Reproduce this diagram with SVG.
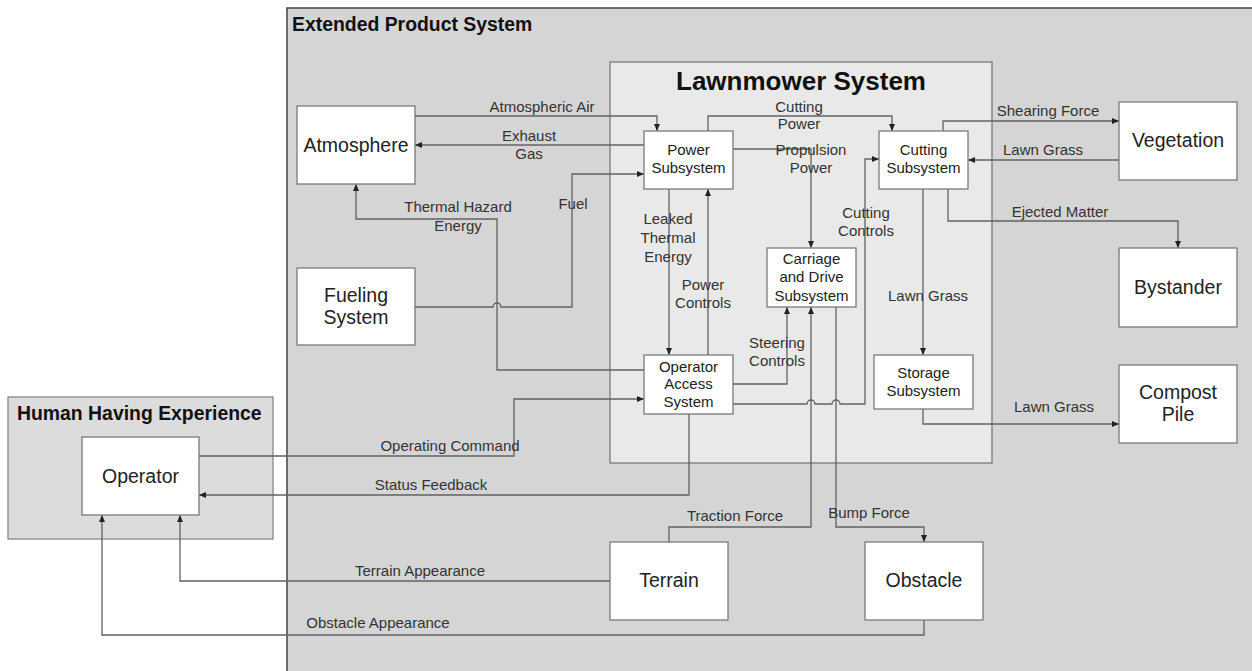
<svg xmlns="http://www.w3.org/2000/svg" width="1252" height="671" viewBox="0 0 1252 671">
<style>
text{font-family:"Liberation Sans",Arial,sans-serif;fill:#222}
.t{font-size:19.4px;font-weight:bold;fill:#111}
.big{font-size:19.5px;text-anchor:middle}
.sm{font-size:15px;text-anchor:middle}
.lb{font-size:15px;text-anchor:middle;fill:#333}
.node{fill:#fff;stroke:#7a7a7a;stroke-width:1.3}
.cn path{fill:none;stroke:#626262;stroke-width:1.3}
</style>
<defs>
<marker id="ah" markerWidth="8" markerHeight="8" refX="7" refY="4" orient="auto" markerUnits="userSpaceOnUse">
<path d="M0,1 L7,4 L0,7 z" fill="#222"/>
</marker>
</defs>
<rect width="1252" height="671" fill="#fff"/>
<g id="extended">
<rect x="287" y="8" width="980" height="680" fill="#d5d5d5" stroke="#444" stroke-width="1.5"/>
<text class="t" x="292" y="31">Extended Product System</text>
</g>
<g id="lawnmower">
<rect x="610" y="62" width="382" height="401" fill="#e9e9e9" stroke="#7a7a7a" stroke-width="1.3"/>
<text x="801" y="90" style="font-size:26px;font-weight:bold;text-anchor:middle;fill:#111">Lawnmower System</text>
</g>
<g id="human">
<rect x="8" y="397" width="265" height="142" fill="#dcdcdc" stroke="#888" stroke-width="1.3"/>
<text class="t" x="17" y="420">Human Having Experience</text>
</g>
<g class="cn" id="connectors">
<path d="M415,116 H657 V131" marker-end="url(#ah)"/>
<path d="M644,145 H415" marker-end="url(#ah)"/>
<path d="M415,307 H493 a4,4 0 0 1 8,0 H572 V174 H644" marker-end="url(#ah)"/>
<path d="M644,370 H497 V219 H356 V184" marker-end="url(#ah)"/>
<path d="M708,131 V116 H892 V131" marker-end="url(#ah)"/>
<path d="M733,149 H811 V248" marker-end="url(#ah)"/>
<path d="M669,189 V355" marker-end="url(#ah)"/>
<path d="M708,355 V189" marker-end="url(#ah)"/>
<path d="M733,404 H807 a4,4 0 0 1 8,0 H832 a4,4 0 0 1 8,0 H865 V159 H879" marker-end="url(#ah)"/>
<path d="M733,384 H787 V307" marker-end="url(#ah)"/>
<path d="M923,189 V355" marker-end="url(#ah)"/>
<path d="M943,131 V121 H1119" marker-end="url(#ah)"/>
<path d="M1119,160 H968" marker-end="url(#ah)"/>
<path d="M948,189 V221 H1178 V248" marker-end="url(#ah)"/>
<path d="M923,409 V424 H1119" marker-end="url(#ah)"/>
<path d="M199,456 H514 V399 H644" marker-end="url(#ah)"/>
<path d="M689,414 V495 H199" marker-end="url(#ah)"/>
<path d="M610,581 H180 V515" marker-end="url(#ah)"/>
<path d="M924,620 V635 H102 V515" marker-end="url(#ah)"/>
<path d="M669,542 V527 H811 V307" marker-end="url(#ah)"/>
<path d="M836,307 V527 H924 V542" marker-end="url(#ah)"/>
</g>
<g id="labels">
<text class="lb" x="542" y="112">Atmospheric Air</text>
<text class="lb" x="529" y="141">Exhaust</text>
<text class="lb" x="529" y="159">Gas</text>
<text class="lb" x="573" y="209">Fuel</text>
<text class="lb" x="458" y="212">Thermal Hazard</text>
<text class="lb" x="458" y="231">Energy</text>
<text class="lb" x="799" y="112">Cutting</text>
<text class="lb" x="799" y="129">Power</text>
<text class="lb" x="811" y="155">Propulsion</text>
<text class="lb" x="811" y="173">Power</text>
<text class="lb" x="668" y="224">Leaked</text>
<text class="lb" x="668" y="243">Thermal</text>
<text class="lb" x="668" y="262">Energy</text>
<text class="lb" x="703" y="290">Power</text>
<text class="lb" x="703" y="308">Controls</text>
<text class="lb" x="866" y="218">Cutting</text>
<text class="lb" x="866" y="236">Controls</text>
<text class="lb" x="777" y="348">Steering</text>
<text class="lb" x="777" y="366">Controls</text>
<text class="lb" x="928" y="301">Lawn Grass</text>
<text class="lb" x="1048" y="116">Shearing Force</text>
<text class="lb" x="1043" y="155">Lawn Grass</text>
<text class="lb" x="1060" y="217">Ejected Matter</text>
<text class="lb" x="1054" y="412">Lawn Grass</text>
<text class="lb" x="450" y="451">Operating Command</text>
<text class="lb" x="431" y="490">Status Feedback</text>
<text class="lb" x="420" y="576">Terrain Appearance</text>
<text class="lb" x="378" y="628">Obstacle Appearance</text>
<text class="lb" x="735" y="521">Traction Force</text>
<text class="lb" x="869" y="518">Bump Force</text>
</g>
<g id="atmosphere"><rect class="node" x="297" y="106" width="118" height="78"/><text class="big" x="356" y="152">Atmosphere</text></g>
<g id="fueling"><rect class="node" x="297" y="268" width="118" height="77"/><text class="big" x="356" y="302">Fueling</text><text class="big" x="356" y="324">System</text></g>
<g id="power"><rect class="node" x="644" y="131" width="89" height="58"/><text class="sm" x="688.5" y="155">Power</text><text class="sm" x="688.5" y="173">Subsystem</text></g>
<g id="cutting"><rect class="node" x="879" y="131" width="89" height="58"/><text class="sm" x="923.5" y="155">Cutting</text><text class="sm" x="923.5" y="173">Subsystem</text></g>
<g id="carriage"><rect class="node" x="767" y="248" width="89" height="59"/><text class="sm" x="811.5" y="264">Carriage</text><text class="sm" x="811.5" y="282">and Drive</text><text class="sm" x="811.5" y="301">Subsystem</text></g>
<g id="operatoraccess"><rect class="node" x="644" y="355" width="89" height="59"/><text class="sm" x="688.5" y="372">Operator</text><text class="sm" x="688.5" y="389">Access</text><text class="sm" x="688.5" y="407">System</text></g>
<g id="storage"><rect class="node" x="874" y="355" width="99" height="54"/><text class="sm" x="923.5" y="378">Storage</text><text class="sm" x="923.5" y="396">Subsystem</text></g>
<g id="vegetation"><rect class="node" x="1119" y="102" width="118" height="78"/><text class="big" x="1178" y="147">Vegetation</text></g>
<g id="bystander"><rect class="node" x="1119" y="248" width="118" height="79"/><text class="big" x="1178" y="294">Bystander</text></g>
<g id="compost"><rect class="node" x="1119" y="365" width="118" height="78"/><text class="big" x="1178" y="399">Compost</text><text class="big" x="1178" y="421">Pile</text></g>
<g id="operator"><rect class="node" x="82" y="437" width="117" height="78"/><text class="big" x="140.5" y="483">Operator</text></g>
<g id="terrain"><rect class="node" x="610" y="542" width="118" height="78"/><text class="big" x="669" y="587">Terrain</text></g>
<g id="obstacle"><rect class="node" x="865" y="542" width="118" height="78"/><text class="big" x="924" y="587">Obstacle</text></g>
</svg>
